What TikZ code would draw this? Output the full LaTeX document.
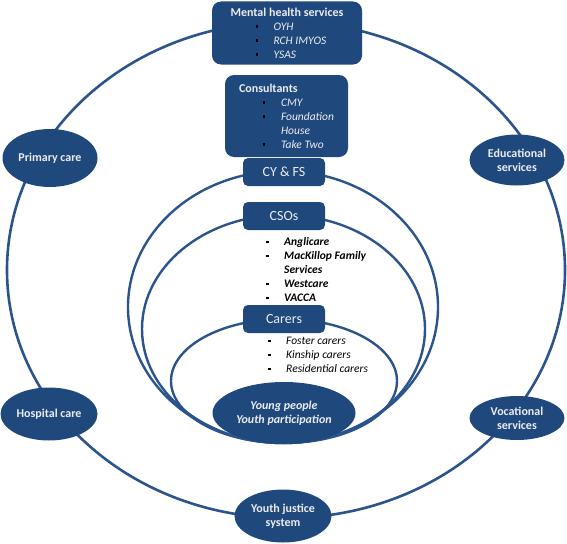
\documentclass[tikz,border=0pt]{standalone}
\usepackage{fontspec}
\setmainfont{Carlito}
\usepackage{tikz}
\usetikzlibrary{
  arrows.meta, positioning, shapes.geometric, shapes.misc
}
\usepackage{xcolor}
\definecolor{carenavy}{RGB}{31, 73, 125}
\definecolor{careline}{RGB}{44, 84, 140}
\definecolor{carelabel}{RGB}{236, 236, 240}
\newcommand{\carebul}[1]{\makebox[19pt][l]{\hspace*{1pt}\textcolor{black}{\rule[0.22em]{2.4pt}{2.4pt}}}#1}

\tikzset{
  servicebox/.style={fill=carenavy, rounded corners=9pt, text=carelabel,
    align=left, inner sep=0pt, font=\fontsize{11.5}{14}\selectfont},
  agencytab/.style={fill=carenavy, rounded corners=5pt, text=carelabel,
    minimum width=82pt, minimum height=28pt, font=\fontsize{14}{16}\selectfont},
  serviceblob/.style={ellipse, fill=carenavy, text=carelabel, align=center,
    inner sep=0pt, font=\bfseries\fontsize{12}{14}\selectfont},
  ringline/.style={draw=careline, line width=2.6pt},
  listtext/.style={anchor=west, inner sep=0pt, align=left,
    font=\itshape\fontsize{11.5}{14}\selectfont}
}

\begin{document}
\begin{tikzpicture}[x=1pt, y=-1pt]
  \useasboundingbox (0,0) rectangle (567,543);

  % rings
  \draw[ringline] (286,270) ellipse [x radius=279pt, y radius=248pt];
  \draw[ringline, line width=2.4pt] (283,307) ellipse [x radius=155pt, y radius=136pt];
  \draw[ringline, line width=2.4pt] (283.5,329) ellipse [x radius=141.5pt, y radius=114pt];
  \draw[ringline, line width=2.4pt] (284,381) ellipse [x radius=113pt, y radius=62pt];

  % top boxes
  \node[servicebox, minimum width=150pt, minimum height=63pt] (mhs) at (287,33) {%
    {\bfseries\fontsize{12}{14}\selectfont Mental health services}\\
    \hspace*{24pt}\carebul{\itshape OYH}\\
    \hspace*{24pt}\carebul{\itshape RCH IMYOS}\\
    \hspace*{24pt}\carebul{\itshape YSAS}};
  \node[servicebox, minimum width=123pt, minimum height=82pt] (consult) at (286.5,116) {%
    {\bfseries\fontsize{12}{14}\selectfont Consultants}\\
    \hspace*{23pt}\carebul{\itshape CMY}\\
    \hspace*{23pt}\carebul{\itshape Foundation}\\
    \hspace*{42pt}{\itshape House}\\
    \hspace*{23pt}\carebul{\itshape Take Two}};

  % agency tabs
  \node[agencytab] (cyfs) at (284,172) {CY \& FS};
  \node[agencytab] (csos) at (284,216) {CSOs};
  \node[agencytab] (carers) at (284,319) {Carers};

  % lists
  \node[listtext, font=\bfseries\itshape\fontsize{11.5}{14}\selectfont] (csolist) at (265,270) {%
    \carebul{Anglicare}\\
    \carebul{MacKillop Family}\\
    \hspace*{19pt}Services\\
    \carebul{Westcare}\\
    \carebul{VACCA}};
  \node[listtext] (carerlist) at (267,355) {%
    \carebul{Foster carers}\\
    \carebul{Kinship carers}\\
    \carebul{Residential carers}};

  % centre
  \node[serviceblob, minimum width=143pt, minimum height=62pt,
        font=\bfseries\itshape\fontsize{12}{14}\selectfont] (young) at (284,413)
        {Young people\\Youth participation};

  % outer services
  \node[serviceblob, minimum width=95pt, minimum height=58pt] (primary) at (50,158) {Primary care};
  \node[serviceblob, minimum width=95pt, minimum height=51pt] (educ) at (517,160) {Educational\\services};
  \node[serviceblob, minimum width=97pt, minimum height=53pt] (hospital) at (49,414) {Hospital care};
  \node[serviceblob, minimum width=95pt, minimum height=44pt] (vocat) at (517,418) {Vocational\\services};
  \node[serviceblob, minimum width=97pt, minimum height=53pt] (justice) at (283,516) {Youth justice\\system};
\end{tikzpicture}
\end{document}
